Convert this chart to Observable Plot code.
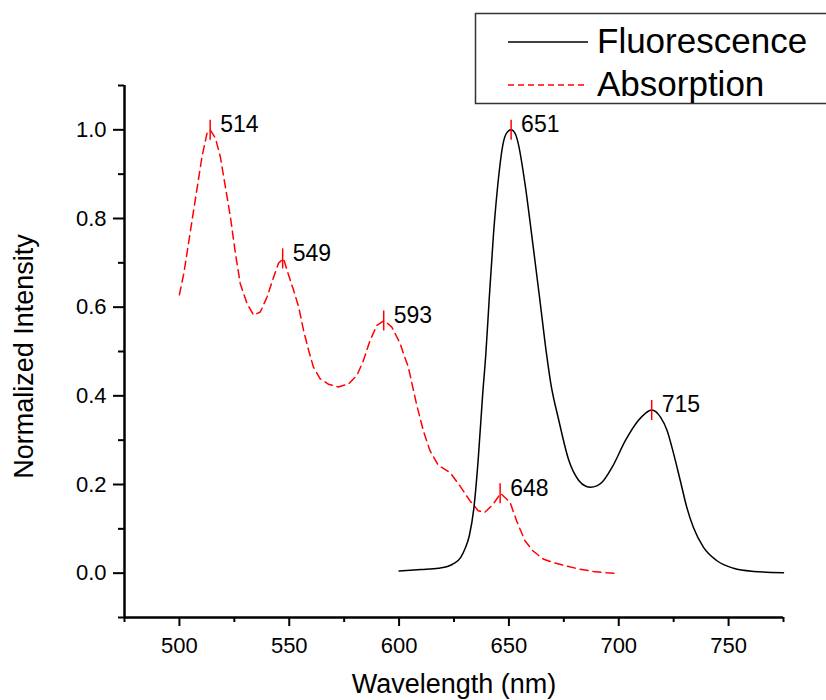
<!DOCTYPE html>
<html>
<head>
<meta charset="utf-8">
<script src="https://cdn.jsdelivr.net/npm/d3@7"></script>
<script src="https://cdn.jsdelivr.net/npm/@observablehq/plot@0.6"></script>
<style>
  html, body { margin: 0; padding: 0; background: #fff; overflow: hidden; }
  #wrap { position: relative; width: 826px; height: 700px; overflow: hidden; font-family: "Liberation Sans", Arial, sans-serif; }
  #legend { position: absolute; left: 0; top: 0; pointer-events: none; }
</style>
</head>
<body>
<div id="wrap"></div>
<script>
// ---- Data ----
const absWavelength = [500, 502, 505.8, 507.7, 510.3, 512.6, 514, 516.4, 518.6, 520.9, 523.2, 525.5, 527.7, 530.8, 533.8, 536.8, 539.9, 542.9, 545.1, 547.4, 549, 552, 554.3, 556.5, 558.8, 561, 564, 567.9, 572.4, 577, 580.8, 583.8, 586.8, 589.9, 593.2, 596.7, 600.5, 602, 604.2, 608, 611, 614, 617.9, 623.2, 627.7, 632.3, 636, 639, 642.9, 646.2, 650.5, 653.5, 657.3, 661, 665.6, 670.2, 676.2, 682.3, 688.3, 694.4, 700];
const absIntensity = [0.628, 0.676, 0.797, 0.857, 0.94, 0.993, 1.0, 0.981, 0.94, 0.872, 0.804, 0.721, 0.653, 0.608, 0.582, 0.589, 0.623, 0.668, 0.699, 0.71, 0.683, 0.638, 0.6, 0.548, 0.503, 0.465, 0.439, 0.426, 0.42, 0.427, 0.446, 0.48, 0.525, 0.559, 0.57, 0.555, 0.518, 0.495, 0.465, 0.38, 0.322, 0.277, 0.243, 0.227, 0.197, 0.163, 0.141, 0.137, 0.156, 0.18, 0.16, 0.118, 0.073, 0.05, 0.032, 0.024, 0.016, 0.009, 0.004, 0.001, -0.001];

const fluWavelength = [600, 610, 618, 622, 625, 628, 630, 632, 634, 636, 638, 639.5, 641, 643, 645, 647.4, 649, 651, 653, 654.2, 657.3, 660.3, 664.1, 667.1, 669, 672.7, 677.3, 681.8, 685, 687.1, 690, 692.4, 697, 703, 709, 712, 715, 719, 722, 725, 728, 731, 734, 738.6, 744.7, 752.3, 761.4, 775];
const fluIntensity = [0.005, 0.008, 0.011, 0.015, 0.022, 0.035, 0.055, 0.085, 0.145, 0.255, 0.40, 0.495, 0.616, 0.766, 0.879, 0.97, 0.993, 1.0, 0.99, 0.97, 0.879, 0.766, 0.616, 0.495, 0.43, 0.345, 0.254, 0.209, 0.196, 0.194, 0.197, 0.205, 0.239, 0.299, 0.345, 0.36, 0.368, 0.352, 0.322, 0.269, 0.209, 0.148, 0.103, 0.058, 0.028, 0.011, 0.004, 0.001];

const peakWavelength = [514, 547, 593, 646, 651, 715];
const peakIntensity = [1.0, 0.71, 0.57, 0.18, 1.0, 0.368];
const peakLabels = ["514", "549", "593", "648", "651", "715"];

const xMajorTicks = [500, 550, 600, 650, 700, 750];
const xMinorTicks = [475, 525, 575, 625, 675, 725, 775];
const yMajorTicks = [0.0, 0.2, 0.4, 0.6, 0.8, 1.0];
const yMinorTicks = [-0.1, 0.1, 0.3, 0.5, 0.7, 0.9, 1.1];

const seriesNames = ["Fluorescence", "Absorption"];
const xTitle = "Wavelength (nm)";
const yTitle = "Normalized Intensity";

// ---- Tables built from the arrays ----
const absorption = absWavelength.map((w, i) => ({x: w, y: absIntensity[i]}));
const fluorescence = fluWavelength.map((w, i) => ({x: w, y: fluIntensity[i]}));
const peaks = peakWavelength.map((w, i) => ({x: w, y: peakIntensity[i], label: peakLabels[i]}));

const vbar = { draw(ctx) { ctx.moveTo(0, -10); ctx.lineTo(0, 10); } };
const FONT = "Liberation Sans, Arial, sans-serif";

const chart = Plot.plot({
  width: 826,
  height: 700,
  marginLeft: 124,
  marginRight: 43,
  marginTop: 85,
  marginBottom: 83,
  style: {fontFamily: FONT, fontSize: "22px", color: "#000", background: "#fff"},
  x: {domain: [475, 775]},
  y: {domain: [-0.1, 1.1]},
  marks: [
    Plot.axisX({ticks: xMajorTicks, tickSize: 9, tickPadding: 11, fontSize: 22, strokeWidth: 2, tickFormat: d => String(d), label: null}),
    Plot.axisX({ticks: xMinorTicks, tickSize: 5, strokeWidth: 2, tickFormat: () => "", label: null}),
    Plot.axisY({ticks: yMajorTicks, tickSize: 11, tickPadding: 7, fontSize: 22, strokeWidth: 2, tickFormat: d3.format(".1f"), label: null}),
    Plot.axisY({ticks: yMinorTicks, tickSize: 6, strokeWidth: 2, tickFormat: () => "", label: null}),
    Plot.ruleX([475], {stroke: "#000", strokeWidth: 2.5}),
    Plot.ruleY([-0.1], {stroke: "#000", strokeWidth: 2.5}),
    Plot.line(absorption, {x: "x", y: "y", stroke: "#ff0000", strokeWidth: 1.5, strokeDasharray: "8,5"}),
    Plot.line(fluorescence, {x: "x", y: "y", stroke: "#000", strokeWidth: 1.5, curve: "monotone-x"}),
    Plot.dot(peaks, {x: "x", y: "y", symbol: vbar, r: 10, stroke: "#ff0000", fill: "none", strokeWidth: 1.5}),
    Plot.text(peaks, {x: "x", y: "y", text: "label", textAnchor: "start", lineAnchor: "middle", dx: 10, dy: -5, fontSize: 23, fill: "#000"}),
    Plot.text([xTitle], {frameAnchor: "bottom", textAnchor: "middle", lineAnchor: "middle", dy: 67, fontSize: 27, fill: "#000"}),
    Plot.text([yTitle], {frameAnchor: "left", textAnchor: "middle", lineAnchor: "middle", rotate: -90, dx: -100, dy: 5, fontSize: 27, fill: "#000"})
  ]
});

const wrap = document.getElementById("wrap");
wrap.appendChild(chart);

// ---- Legend overlay (box partly cut by the right edge, as in the reference) ----
const ns = "http://www.w3.org/2000/svg";
const leg = document.createElementNS(ns, "svg");
leg.setAttribute("id", "legend");
leg.setAttribute("width", 826);
leg.setAttribute("height", 700);
const legendStyles = [
  {stroke: "#000", dash: null},
  {stroke: "#ff0000", dash: "6,4"}
];
const box = document.createElementNS(ns, "rect");
box.setAttribute("x", 475.5); box.setAttribute("y", 13.5);
box.setAttribute("width", 400); box.setAttribute("height", 90);
box.setAttribute("fill", "#fff"); box.setAttribute("stroke", "#333"); box.setAttribute("stroke-width", 1.5);
leg.appendChild(box);
seriesNames.forEach((name, i) => {
  const cy = 42 + i * 43;
  const ln = document.createElementNS(ns, "line");
  ln.setAttribute("x1", 508); ln.setAttribute("x2", 588);
  ln.setAttribute("y1", cy); ln.setAttribute("y2", cy);
  ln.setAttribute("stroke", legendStyles[i].stroke);
  ln.setAttribute("stroke-width", 1.5);
  if (legendStyles[i].dash) ln.setAttribute("stroke-dasharray", legendStyles[i].dash);
  leg.appendChild(ln);
  const tx = document.createElementNS(ns, "text");
  tx.setAttribute("x", 597); tx.setAttribute("y", cy + 11);
  tx.setAttribute("font-family", FONT); tx.setAttribute("font-size", 35);
  tx.setAttribute("fill", "#000");
  tx.textContent = name;
  leg.appendChild(tx);
});
wrap.appendChild(leg);
</script>
</body>
</html>
